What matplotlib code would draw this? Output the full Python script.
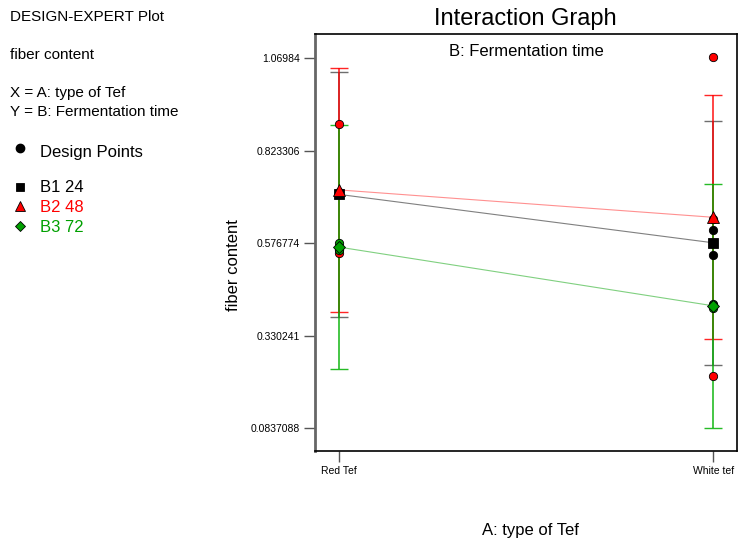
import matplotlib.pyplot as plt
from matplotlib.lines import Line2D

plt.rcParams['font.family'] = ['Liberation Sans', 'DejaVu Sans']

# factor A levels and factor B levels
tef_types = ['Red Tef', 'White tef']
ferm_levels = ['B1 24', 'B2 48', 'B3 72']

# predicted means of fiber content for each B level at A levels
b1_means = [0.707, 0.578]
b2_means = [0.719, 0.646]
b3_means = [0.5665, 0.410]

# LSD half width of the bars
lsd_half = 0.3255

# observed design points (x index, value)
b1_points_x = [0, 0, 0, 1, 1, 1]
b1_points_y = [0.707, 0.707, 0.707, 0.612, 0.545, 0.577]
b2_points_x = [0, 0, 0, 1, 1, 1]
b2_points_y = [0.894, 0.550, 0.713, 1.074, 0.223, 0.641]
b3_points_x = [0, 0, 0, 1, 1, 1]
b3_points_y = [0.577, 0.562, 0.560, 0.414, 0.405, 0.411]

y_ticks = [0.0837088, 0.330241, 0.576774, 0.823306, 1.06984]
y_tick_labels = ['0.0837088', '0.330241', '0.576774', '0.823306', '1.06984']

red = '#ff0000'
green = '#00a000'

fig = plt.figure(figsize=(7.46, 5.44), dpi=100)
ax = fig.add_axes([0.4223, 0.171, 0.5657, 0.7665])

series = [
    (b1_means, b1_points_x, b1_points_y, '#555555', '#808080', 's', 7, 'black'),
    (b2_means, b2_points_x, b2_points_y, red, '#ff9090', '^', 8, red),
    (b3_means, b3_points_x, b3_points_y, '#00b000', '#80d080', 'D', 6, green),
]
x = [0, 1]
for means, px, py, ecol, lcol, mk, ms, col in series:
    ax.errorbar(x, means, yerr=lsd_half, fmt='none', ecolor=ecol, elinewidth=1.2,
                capsize=6.5, capthick=1.0, alpha=0.85, zorder=2)
    ax.plot(x, means, color=lcol, lw=0.8, zorder=3)
    ax.plot(px, py, 'o', color=col, mec='black', mew=0.6, ms=6, ls='none', zorder=4)
    ax.plot(x, means, mk, color=col, mec='black', mew=0.6, ms=ms, ls='none', zorder=5)

ax.set_xlim(-0.065, 1.063)
ax.set_ylim(0.0232, 1.1346)
ax.set_xticks(x)
ax.set_xticklabels(tef_types, fontsize=7.5)
ax.set_yticks(y_ticks)
ax.set_yticklabels(y_tick_labels, fontsize=7.5)
ax.tick_params(axis='both', direction='out', length=8, width=1, color='#555555', pad=3)
for s in ['top', 'right', 'bottom']:
    ax.spines[s].set_linewidth(1.2)
ax.spines['left'].set_color('#666666')
ax.spines['left'].set_linewidth(2)
ax.text(0.5, 0.975, 'B: Fermentation time', transform=ax.transAxes,
        ha='center', va='top', fontsize=12)

fig.text(234 / 746, 1 - 265 / 544, 'fiber content', rotation=90, ha='center',
         va='center', fontsize=12)
fig.text(530 / 746, 1 - 530 / 544, 'A: type of Tef', ha='center', va='center', fontsize=12)
fig.text(0.704, 0.965, 'Interaction Graph', ha='center', va='center', fontsize=17)

# left hand notes and legend
notes = [
    ('DESIGN-EXPERT Plot', 17),
    ('fiber content', 55),
    ('X = A: type of Tef', 93),
    ('Y = B: Fermentation time', 112),
]
for txt, ypx in notes:
    fig.text(10 / 746, 1 - ypx / 544, txt, ha='left', va='center', fontsize=11)

fig.text(40 / 746, 1 - 152 / 544, 'Design Points', ha='left', va='center', fontsize=12)
fig.add_artist(Line2D([20 / 746], [1 - 148 / 544], marker='o', color='black', ms=6,
                      transform=fig.transFigure))

legend_y = [188, 207, 227]
legend_cols = ['black', red, green]
legend_marks = [('s', 6), ('^', 7.5), ('D', 5.5)]
for lab, ypx, col, (mk, ms) in zip(ferm_levels, legend_y, legend_cols, legend_marks):
    fig.text(40 / 746, 1 - ypx / 544, lab, ha='left', va='center', fontsize=12, color=col)
    fig.add_artist(Line2D([20 / 746], [1 - (ypx - 1) / 544], marker=mk, color=col,
                          mec='black', mew=0.6, ms=ms, transform=fig.transFigure))

fig.savefig('out.png', dpi=100)
